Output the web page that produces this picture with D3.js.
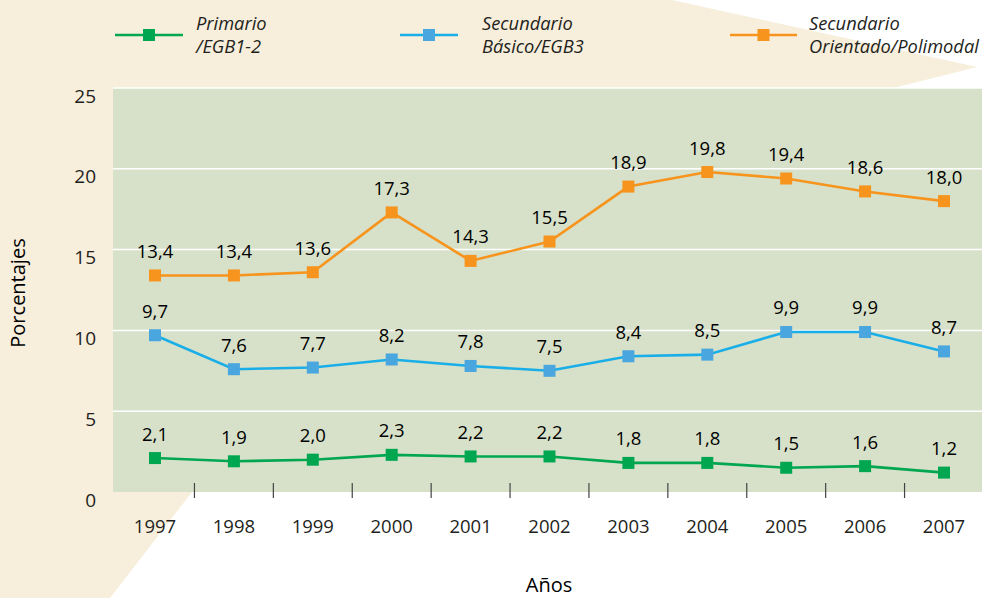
<!DOCTYPE html>
<html>
<head>
<meta charset="utf-8">
<script src="https://cdn.jsdelivr.net/npm/d3@7"></script>
<style>
  body { margin: 0; background: #fff; }
  svg { display: block; font-family: "Open Sans", "Noto Sans", sans-serif; }
</style>
</head>
<body>
<svg id="chart" width="982" height="598"></svg>
<script>
var years = ["1997", "1998", "1999", "2000", "2001", "2002", "2003", "2004", "2005", "2006", "2007"];
var primario = [2.1, 1.9, 2.0, 2.3, 2.2, 2.2, 1.8, 1.8, 1.5, 1.6, 1.2];
var basico = [9.7, 7.6, 7.7, 8.2, 7.8, 7.5, 8.4, 8.5, 9.9, 9.9, 8.7];
var orientado = [13.4, 13.4, 13.6, 17.3, 14.3, 15.5, 18.9, 19.8, 19.4, 18.6, 18.0];
var yTicks = [0, 5, 10, 15, 20, 25];
var seriesNames = [["Primario", "/EGB1-2"], ["Secundario", "Básico/EGB3"], ["Secundario", "Orientado/Polimodal"]];

var svg = d3.select("#chart");

// beige background shape
svg.append("polygon")
    .attr("points", "0,0 672,0 977,67 893,88 500,300 192,492 110,598 0,598")
    .style("fill", "#f7eedb");

var plotLeft = 113, plotRight = 982, plotTop = 88, plotBottom = 492;

var x = d3.scalePoint()
    .domain(years)
    .range([155, 944]);

var y = d3.scaleLinear()
    .domain([0, 25])
    .range([plotBottom, plotTop]);

svg.append("rect")
    .attr("x", plotLeft)
    .attr("y", plotTop)
    .attr("width", plotRight - plotLeft)
    .attr("height", plotBottom - plotTop)
    .style("fill", "#d7e0c8");

// gridlines
svg.selectAll(".grid")
    .data(yTicks.filter(function(d) { return d > 0; }))
    .enter().append("line")
    .attr("x1", plotLeft)
    .attr("x2", plotRight)
    .attr("y1", function(d) { return y(d); })
    .attr("y2", function(d) { return y(d); })
    .style("stroke", "#fff")
    .style("stroke-width", 1.5);

// y tick labels
svg.selectAll(".ylab")
    .data(yTicks)
    .enter().append("text")
    .attr("x", 96)
    .attr("y", function(d) { return y(d) + 8; })
    .attr("dy", "0.35em")
    .attr("text-anchor", "end")
    .style("font-size", "19px")
    .style("fill", "#231f20")
    .text(function(d) { return d; });

// x axis: ticks between years
var step = x.step();
svg.selectAll(".xtick")
    .data(years.slice(0, -1))
    .enter().append("line")
    .attr("x1", function(d) { return x(d) + step / 2; })
    .attr("x2", function(d) { return x(d) + step / 2; })
    .attr("y1", 483)
    .attr("y2", 498)
    .style("stroke", "#444")
    .style("stroke-width", 1.2);

svg.selectAll(".xlab")
    .data(years)
    .enter().append("text")
    .attr("x", function(d) { return x(d); })
    .attr("y", 527)
    .attr("dy", "0.35em")
    .attr("text-anchor", "middle")
    .style("font-size", "18.5px")
    .style("fill", "#231f20")
    .text(function(d) { return d; });

// axis titles
svg.append("text")
    .attr("transform", "translate(18," + 293 + ") rotate(-90)")
    .attr("dy", "0.35em")
    .attr("text-anchor", "middle")
    .style("font-size", "20px")
    .style("fill", "#000")
    .text("Porcentajes");

svg.append("text")
    .attr("x", 549)
    .attr("y", 585)
    .attr("dy", "0.35em")
    .attr("text-anchor", "middle")
    .style("font-size", "20px")
    .style("fill", "#000")
    .text("Años");

var series = [
    { values: primario, line: "#00a650", marker: "#00a650" },
    { values: basico, line: "#1aaee8", marker: "#4aa6de" },
    { values: orientado, line: "#f7941d", marker: "#f7941d" }
];

var fmt = function(v) { return d3.format(".1f")(v).replace(".", ","); };
var lineGen = d3.line()
    .x(function(d, i) { return x(years[i]); })
    .y(function(d) { return y(d); });

series.forEach(function(s) {
    svg.append("path")
        .datum(s.values)
        .attr("d", lineGen)
        .style("fill", "none")
        .style("stroke", s.line)
        .style("stroke-width", 2.6);

    svg.selectAll(null)
        .data(s.values)
        .enter().append("rect")
        .attr("x", function(d, i) { return x(years[i]) - 6; })
        .attr("y", function(d) { return y(d) - 6; })
        .attr("width", 12)
        .attr("height", 12)
        .style("fill", s.marker);

    svg.selectAll(null)
        .data(s.values)
        .enter().append("text")
        .attr("x", function(d, i) { return x(years[i]); })
        .attr("y", function(d) { return y(d) - 24; })
        .attr("dy", "0.35em")
        .attr("text-anchor", "middle")
        .style("font-size", "18.5px")
        .style("fill", "#000")
        .text(function(d) { return fmt(d); });
});

// legend
var legendPos = [
    { x1: 115, x2: 183, tx: 196 },
    { x1: 400, x2: 458, tx: 482 },
    { x1: 730, x2: 797, tx: 809 }
];
legendPos.forEach(function(p, i) {
    var g = svg.append("g");
    g.append("line")
        .attr("x1", p.x1).attr("x2", p.x2)
        .attr("y1", 35).attr("y2", 35)
        .style("stroke", series[i].line)
        .style("stroke-width", 2.6);
    g.append("rect")
        .attr("x", (p.x1 + p.x2) / 2 - 6)
        .attr("y", 29)
        .attr("width", 12).attr("height", 12)
        .style("fill", series[i].marker);
    g.selectAll("text")
        .data(seriesNames[i])
        .enter().append("text")
        .attr("x", p.tx)
        .attr("y", function(d, j) { return 24 + j * 23; })
        .attr("dy", "0.35em")
        .style("font-size", "18.3px")
        .style("font-style", "italic")
        .style("fill", "#231f20")
        .text(function(d) { return d; });
});
</script>
</body>
</html>
